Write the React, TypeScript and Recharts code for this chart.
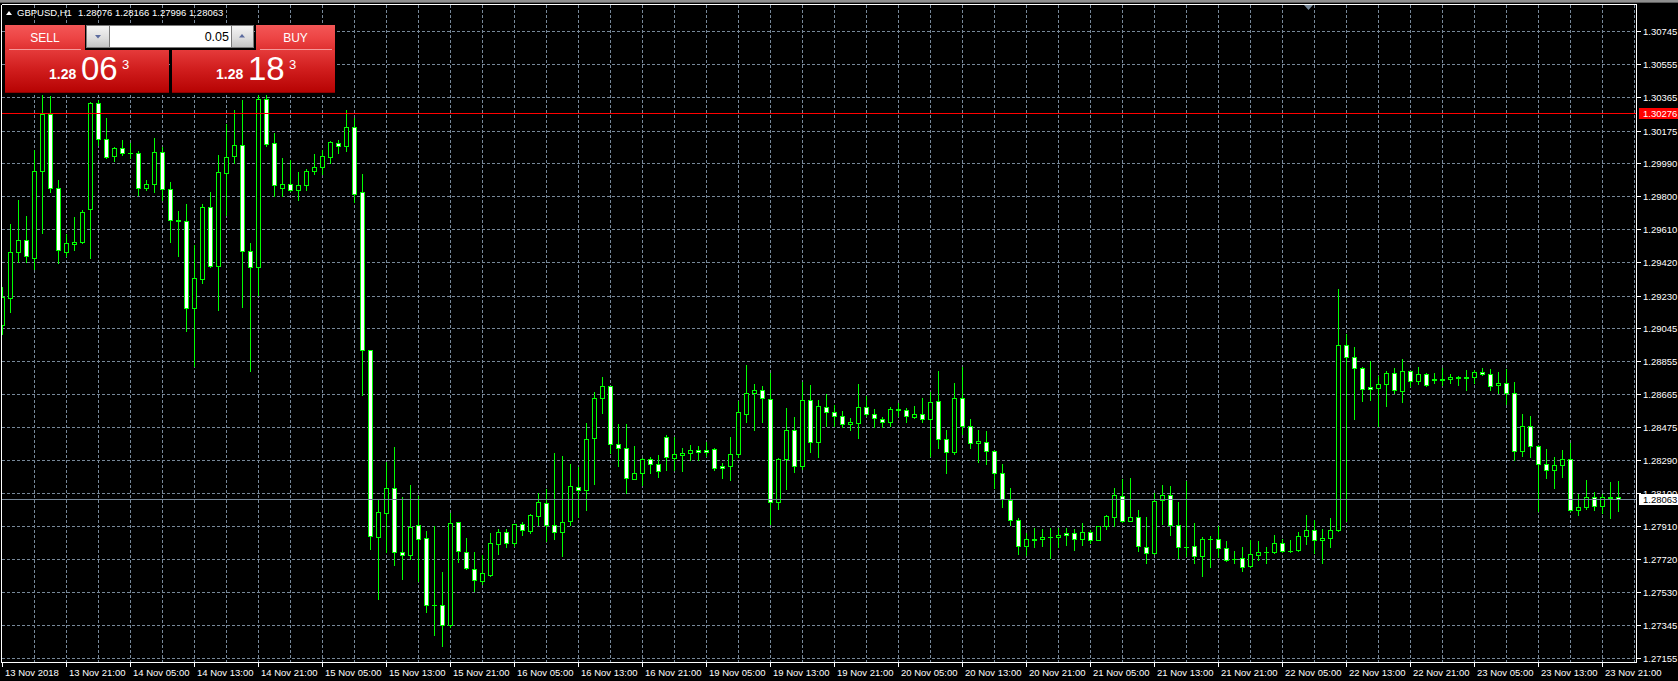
import React from 'react';
import { ComposedChart, Bar, XAxis, YAxis, CartesianGrid, ReferenceLine } from 'recharts';

// ---------------- data ----------------
const symbol = 'GBPUSD,H1';

const opens = [
  1.29063,1.29219,1.29478,1.29547,1.29447,1.29943,1.30267,1.29847,1.29482,1.29524,
  1.29534,1.29724,1.30330,1.30129,1.30029,1.30077,1.30048,1.30048,1.29847,1.29868,
  1.30054,1.29839,1.29662,1.29655,1.29161,1.29326,1.29737,1.29397,1.29933,1.30027,
  1.30090,1.29483,1.29393,1.30354,1.30102,1.29848,1.29867,1.29832,1.29861,1.29941,
  1.29966,1.30021,1.30103,1.30086,1.30193,1.29821,1.28916,1.27849,1.27988,1.28126,
  1.27761,1.27746,1.27914,1.27841,1.27461,1.27459,1.27345,1.27931,1.27761,1.27663,
  1.27597,1.27632,1.27807,1.27876,1.27816,1.27922,1.27880,1.27966,1.28043,1.27916,
  1.27874,1.27937,1.28133,1.28118,1.28413,1.28642,1.28711,1.28383,1.28360,1.28181,
  1.28216,1.28296,1.28268,1.28423,1.28302,1.28319,1.28331,1.28348,1.28348,1.28354,
  1.28256,1.28256,1.28325,1.28550,1.28671,1.28688,1.28636,1.28049,1.28296,1.28458,
  1.28256,1.28630,1.28394,1.28590,1.28561,1.28538,1.28492,1.28498,1.28590,1.28550,
  1.28521,1.28509,1.28579,1.28575,1.28532,1.28550,1.28521,1.28625,1.28411,1.28337,
  1.28642,1.28486,1.28388,1.28392,1.28342,1.28216,1.28060,1.27945,1.27795,1.27835,
  1.27835,1.27847,1.27847,1.27870,1.27870,1.27835,1.27876,1.27830,1.27910,1.27962,
  1.28083,1.27939,1.27962,1.27789,1.27755,1.28062,1.28089,1.27916,1.27793,1.27795,
  1.27738,1.27835,1.27835,1.27784,1.27720,1.27730,1.27680,1.27743,1.27761,1.27761,
  1.27812,1.27766,1.27772,1.27853,1.27887,1.27830,1.27841,1.27887,1.28947,1.28878,
  1.28815,1.28705,1.28700,1.28722,1.28786,1.28682,1.28797,1.28740,1.28780,1.28745,
  1.28750,1.28751,1.28763,1.28759,1.28761,1.28792,1.28780,1.28717,1.28728,1.28671,
  1.28340,1.28481,1.28371,1.28267,1.28233,1.28262,1.28296,1.28003,1.28020,1.28077,
  1.28026,1.28077,1.28076,
];

const highs = [
  1.29278,1.29639,1.29777,1.29687,1.30065,1.30378,1.30371,1.29893,1.29582,1.29682,
  1.29722,1.30340,1.30350,1.30246,1.30080,1.30119,1.30106,1.30056,1.29893,1.30131,
  1.30079,1.29881,1.29716,1.29756,1.29520,1.29756,1.29825,1.30037,1.30210,1.30294,
  1.30350,1.29531,1.30380,1.30380,1.30161,1.30019,1.30006,1.29939,1.29956,1.30040,
  1.30061,1.30113,1.30121,1.30294,1.30247,1.29926,1.28920,1.28057,1.28278,1.28362,
  1.28074,1.28145,1.28080,1.27881,1.27910,1.27648,1.27986,1.27935,1.27843,1.27763,
  1.27745,1.27868,1.27895,1.27893,1.27925,1.27935,1.27980,1.28102,1.28125,1.28327,
  1.28314,1.28267,1.28250,1.28500,1.28678,1.28763,1.28715,1.28492,1.28492,1.28371,
  1.28302,1.28304,1.28319,1.28429,1.28423,1.28360,1.28373,1.28369,1.28394,1.28360,
  1.28273,1.28423,1.28628,1.28832,1.28723,1.28711,1.28786,1.28302,1.28584,1.28532,
  1.28734,1.28717,1.28630,1.28665,1.28602,1.28567,1.28527,1.28723,1.28653,1.28579,
  1.28532,1.28590,1.28613,1.28584,1.28596,1.28642,1.28676,1.28797,1.28463,1.28728,
  1.28822,1.28521,1.28463,1.28452,1.28345,1.28267,1.28129,1.27956,1.27870,1.27899,
  1.27893,1.27899,1.27899,1.27899,1.27893,1.27928,1.27887,1.27912,1.27974,1.28129,
  1.28181,1.28187,1.28004,1.27962,1.28100,1.28148,1.28137,1.28050,1.28166,1.27928,
  1.27849,1.27855,1.27908,1.27824,1.27766,1.27789,1.27832,1.27824,1.27791,1.27860,
  1.27835,1.27830,1.27876,1.27974,1.27945,1.27893,1.27956,1.29270,1.29011,1.28936,
  1.28820,1.28855,1.28769,1.28797,1.28815,1.28867,1.28800,1.28820,1.28786,1.28786,
  1.28815,1.28780,1.28769,1.28803,1.28803,1.28815,1.28809,1.28792,1.28809,1.28734,
  1.28550,1.28538,1.28375,1.28354,1.28308,1.28348,1.28388,1.28095,1.28175,1.28106,
  1.28095,1.28164,1.28166,
];

const lows = [
  1.29011,1.29136,1.29424,1.29424,1.29384,1.29591,1.29825,1.29415,1.29457,1.29493,
  1.29530,1.29445,1.30094,1.30020,1.30000,1.30033,1.30016,1.29804,1.29833,1.29825,
  1.29776,1.29534,1.29459,1.29027,1.28827,1.29303,1.29395,1.29148,1.29691,1.29991,
  1.29162,1.28798,1.29235,1.30084,1.29798,1.29798,1.29830,1.29779,1.29836,1.29926,
  1.29928,1.29991,1.30048,1.30058,1.29764,1.28658,1.27780,1.27492,1.27759,1.27690,
  1.27608,1.27721,1.27593,1.27419,1.27286,1.27223,1.27335,1.27702,1.27665,1.27538,
  1.27580,1.27626,1.27753,1.27793,1.27797,1.27862,1.27868,1.27918,1.27824,1.27839,
  1.27741,1.27914,1.27960,1.28001,1.28150,1.28559,1.28329,1.28254,1.28099,1.28178,
  1.28143,1.28214,1.28191,1.28231,1.28231,1.28225,1.28290,1.28287,1.28310,1.28233,
  1.28185,1.28173,1.28308,1.28504,1.28458,1.28504,1.27922,1.28008,1.28124,1.28221,
  1.28239,1.28337,1.28308,1.28486,1.28481,1.28475,1.28463,1.28412,1.28538,1.28475,
  1.28475,1.28481,1.28538,1.28509,1.28527,1.28504,1.28312,1.28360,1.28216,1.28323,
  1.28440,1.28360,1.28277,1.28267,1.28127,1.28018,1.27914,1.27753,1.27747,1.27793,
  1.27799,1.27730,1.27789,1.27801,1.27772,1.27801,1.27816,1.27828,1.27893,1.27910,
  1.27935,1.27937,1.27770,1.27701,1.27750,1.27920,1.27857,1.27730,1.27738,1.27699,
  1.27626,1.27678,1.27736,1.27709,1.27701,1.27655,1.27676,1.27718,1.27701,1.27755,
  1.27761,1.27764,1.27770,1.27809,1.27755,1.27701,1.27789,1.27880,1.27941,1.28521,
  1.28625,1.28630,1.28484,1.28596,1.28671,1.28619,1.28715,1.28722,1.28715,1.28728,
  1.28717,1.28728,1.28717,1.28692,1.28728,1.28778,1.28688,1.28671,1.28607,1.28290,
  1.28312,1.28306,1.27995,1.28187,1.28129,1.28191,1.27998,1.27974,1.28008,1.28003,
  1.27983,1.27955,1.27996,
];

const closes = [
  1.29223,1.29478,1.29547,1.29455,1.29945,1.30267,1.29847,1.29490,1.29530,1.29536,
  1.29708,1.30330,1.30129,1.30025,1.30077,1.30048,1.30046,1.29847,1.29870,1.30054,
  1.29839,1.29662,1.29658,1.29161,1.29328,1.29737,1.29397,1.29939,1.30025,1.30090,
  1.29487,1.29393,1.30354,1.30100,1.29861,1.29867,1.29834,1.29861,1.29941,1.29966,
  1.30027,1.30109,1.30086,1.30193,1.29811,1.28916,1.27856,1.27990,1.28126,1.27759,
  1.27746,1.27904,1.27839,1.27461,1.27459,1.27341,1.27927,1.27765,1.27668,1.27603,
  1.27640,1.27812,1.27876,1.27816,1.27922,1.27885,1.27974,1.28049,1.27916,1.27876,
  1.27931,1.28141,1.28118,1.28411,1.28642,1.28711,1.28383,1.28360,1.28187,1.28216,
  1.28296,1.28268,1.28227,1.28308,1.28325,1.28331,1.28348,1.28337,1.28337,1.28244,
  1.28244,1.28325,1.28561,1.28671,1.28688,1.28642,1.28049,1.28296,1.28458,1.28256,
  1.28630,1.28394,1.28596,1.28561,1.28538,1.28492,1.28509,1.28590,1.28550,1.28527,
  1.28509,1.28579,1.28575,1.28538,1.28550,1.28521,1.28619,1.28411,1.28337,1.28642,
  1.28486,1.28388,1.28400,1.28342,1.28216,1.28066,1.27945,1.27795,1.27835,1.27833,
  1.27847,1.27845,1.27858,1.27858,1.27835,1.27876,1.27830,1.27910,1.27968,1.28089,
  1.27939,1.27962,1.27795,1.27755,1.28054,1.28089,1.27916,1.27793,1.27791,1.27738,
  1.27835,1.27839,1.27784,1.27715,1.27724,1.27674,1.27749,1.27761,1.27763,1.27812,
  1.27766,1.27770,1.27853,1.27887,1.27830,1.27840,1.27887,1.28947,1.28878,1.28815,
  1.28694,1.28694,1.28722,1.28786,1.28688,1.28797,1.28740,1.28780,1.28717,1.28750,
  1.28748,1.28763,1.28759,1.28761,1.28792,1.28780,1.28711,1.28728,1.28671,1.28340,
  1.28481,1.28371,1.28267,1.28233,1.28262,1.28296,1.28003,1.28020,1.28077,1.28026,
  1.28077,1.28072,1.28063,
];

const timeLabels = [
  '13 Nov 2018', '13 Nov 21:00', '14 Nov 05:00', '14 Nov 13:00', '14 Nov 21:00',
  '15 Nov 05:00', '15 Nov 13:00', '15 Nov 21:00', '16 Nov 05:00', '16 Nov 13:00',
  '16 Nov 21:00', '19 Nov 05:00', '19 Nov 13:00', '19 Nov 21:00', '20 Nov 05:00',
  '20 Nov 13:00', '20 Nov 21:00', '21 Nov 05:00', '21 Nov 13:00', '21 Nov 21:00',
  '22 Nov 05:00', '22 Nov 13:00', '22 Nov 21:00', '23 Nov 05:00', '23 Nov 13:00',
  '23 Nov 21:00',
];
const labelIdx = [
  0, 8, 16, 24, 32, 40, 48, 56, 64, 72, 80, 88, 96, 104, 112, 120, 128,
  136, 144, 152, 160, 168, 176, 184, 192, 200,
];

const priceTicks = [
  1.30745, 1.30555, 1.30365, 1.30175, 1.29990, 1.29800, 1.29610, 1.29420, 1.29230, 1.29045,
  1.28855, 1.28665, 1.28475, 1.28290, 1.28100, 1.27910, 1.27720, 1.27530, 1.27345, 1.27155,
];

const redLevel = 1.30276;
const bidPrice = 1.28063;
const askPrice = 1.28183;
const lotSize = '0.05';

// ---------------- layout constants ----------------
const FONT = '"Liberation Sans", Arial, Helvetica, sans-serif';
const LIME = '#00ff00';
const GRID = '#778899';
const Y_TOP = 1.3089959;
const Y_BOTTOM = 1.2713199;
const X_MIN = -0.125;
const X_MAX = 204.25;
const gridIdx = Array.from({ length: 51 }, (_, k) => 4 + k * 4);

const data = opens.map((o, i) => ({ idx: i, open: o, high: highs[i], low: lows[i], close: closes[i] }));

function Candle(props: any) {
  const { x, y, width, height, payload } = props;
  if (!payload || x == null || y == null) return null;
  const { open, close, high, low } = payload;
  const top = Math.min(y, y + height);
  const bot = Math.max(y, y + height);
  const k = high > low ? (bot - top) / (high - low) : 0;
  const py = (p: number) => top + (high - p) * k;
  const c = Math.floor(x + width / 2);
  const wTop = Math.floor(py(high));
  const wBot = Math.floor(py(low));
  const bTop = Math.floor(py(Math.max(open, close)));
  const bBot = Math.floor(py(Math.min(open, close)));
  const bh = bBot - bTop + 1;
  const bull = close > open;
  return (
    <g>
      <rect x={c} y={wTop} width={1} height={Math.max(1, wBot - wTop + 1)} fill={LIME} />
      <rect x={c - 2} y={bTop} width={5} height={bh} fill={LIME} />
      {bh > 2 && <rect x={c - 1} y={bTop + 1} width={3} height={bh - 2} fill={bull ? '#000000' : '#ffffff'} />}
    </g>
  );
}

function PriceTick(props: any) {
  const { x, y, payload } = props;
  const v = payload.value as number;
  const yy = Math.floor(y);
  const label = v.toFixed(5);
  if (v === redLevel) {
    return (
      <g>
        <rect x={1639} y={yy - 5} width={39} height={11} fill="#ff0000" />
        <text x={1643} y={yy + 4} fill="#ffffff" fontFamily={FONT} fontSize={9.5}>{label}</text>
      </g>
    );
  }
  if (v === bidPrice) {
    return (
      <g>
        <rect x={1639} y={yy - 5} width={39} height={11} fill="#ffffff" />
        <text x={1643} y={yy + 4} fill="#000000" fontFamily={FONT} fontSize={9.5}>{label}</text>
      </g>
    );
  }
  return (
    <g>
      <rect x={Math.floor(x) + 1} y={yy} width={4} height={1} fill="#ffffff" />
      <text x={1643} y={yy + 4} fill="#ffffff" fontFamily={FONT} fontSize={9.5}>{label}</text>
    </g>
  );
}

function TimeTick(props: any) {
  const { x, y, payload } = props;
  const pos = labelIdx.indexOf(payload.value);
  if (pos < 0) return null;
  const xx = Math.floor(x);
  const yy = Math.floor(y);
  return (
    <g>
      <rect x={xx} y={yy + 1} width={1} height={4} fill="#ffffff" />
      <text x={xx + 3} y={yy + 14} fill="#ffffff" fontFamily={FONT} fontSize={9.5}>{timeLabels[pos]}</text>
    </g>
  );
}

const redGrad = 'linear-gradient(to bottom, #f45757 0%, #ec4343 55%, #de2f2f 100%)';
const boxGrad = 'linear-gradient(to bottom, #e53a3a 0%, #d11e1e 45%, #b70303 100%)';
const btnGrad = 'linear-gradient(to bottom, #f4f4f4 0%, #dcdcdc 60%, #c4c4c4 100%)';

function QuoteBox({ left, width, price }: { left: number; width: number; price: number }) {
  const s = price.toFixed(5);
  const head = s.slice(0, 4);
  const big = s.slice(4, 6);
  const tail = s.slice(6);
  const pad = left === 5 ? 44 : 44;
  return (
    <div style={{ position: 'absolute', left, top: 50, width, height: 43, background: boxGrad, boxSizing: 'border-box', borderBottom: '1px solid #8e0000' }}>
      <span style={{ position: 'absolute', left: pad, top: 17, font: `bold 14px ${FONT}`, lineHeight: '14px', color: '#fff' }}>{head}</span>
      <span style={{ position: 'absolute', left: pad + 32, top: 2, font: `33px ${FONT}`, lineHeight: '33px', color: '#fff' }}>{big}</span>
      <span style={{ position: 'absolute', left: pad + 73, top: 8, font: `13px ${FONT}`, lineHeight: '13px', color: '#fff' }}>{tail}</span>
    </div>
  );
}

export default function App() {
  const last = data.length - 1;
  const ohlc = [opens[last], highs[last], lows[last], closes[last]].map((v) => v.toFixed(5)).join(' ');
  return (
    <div className="mt4" style={{ position: 'fixed', left: 0, top: 0, width: 1678, height: 681, background: '#000', overflow: 'hidden' }}>
      <style>{'.mt4 svg line, .mt4 svg rect, .mt4 svg path { shape-rendering: crispEdges; }'}</style>
      <ComposedChart width={1678} height={681} data={data} margin={{ top: 4.5, right: 0, bottom: 0, left: 1.5 }}>
        <CartesianGrid stroke={GRID} strokeDasharray="3 2" horizontalValues={priceTicks} verticalValues={gridIdx} />
        <XAxis
          type="number"
          dataKey="idx"
          domain={[X_MIN, X_MAX]}
          allowDataOverflow
          ticks={labelIdx}
          interval={0}
          height={18.5}
          axisLine={{ stroke: '#ffffff' }}
          tickLine={false}
          tickSize={0}
          tickMargin={0}
          tick={(p: any) => <TimeTick {...p} />}
        />
        <YAxis
          orientation="right"
          type="number"
          domain={[Y_BOTTOM, Y_TOP]}
          allowDataOverflow
          ticks={[...priceTicks, redLevel, bidPrice]}
          interval={0}
          width={41.5}
          axisLine={{ stroke: '#ffffff' }}
          tickLine={false}
          tickSize={0}
          tickMargin={0}
          tick={(p: any) => <PriceTick {...p} />}
        />
        <ReferenceLine x={X_MIN} stroke="#ffffff" ifOverflow="visible" />
        <ReferenceLine y={Y_TOP} stroke="#ffffff" ifOverflow="visible" />
        <Bar dataKey={(d: any) => [d.low, d.high]} barSize={5} shape={(p: any) => <Candle {...p} />} isAnimationActive={false} />
        <ReferenceLine y={redLevel} stroke="#ff0000" ifOverflow="visible" />
        <ReferenceLine y={bidPrice} stroke={GRID} ifOverflow="visible" />
      </ComposedChart>

      {/* window top bar */}
      <div style={{ position: 'absolute', left: 0, top: 0, width: 1678, height: 2, background: '#8f8f8f' }} />
      <div style={{ position: 'absolute', left: 0, top: 2, width: 1678, height: 1, background: '#5c5c5c' }} />

      {/* chart shift marker */}
      <svg style={{ position: 'absolute', left: 1304, top: 5 }} width={10} height={5}>
        <polygon points="0,0 9,0 4.5,5" fill={GRID} />
      </svg>

      {/* header */}
      <svg style={{ position: 'absolute', left: 6, top: 11 }} width={6} height={4}>
        <polygon points="0,4 3,0 6,4" fill="#ffffff" />
      </svg>
      <span style={{ position: 'absolute', left: 17, top: 8, font: `9.5px ${FONT}`, lineHeight: '9.5px', color: '#fff', whiteSpace: 'pre' }}>{symbol}</span>
      <span style={{ position: 'absolute', left: 78, top: 8, font: `9.5px ${FONT}`, lineHeight: '9.5px', color: '#fff', whiteSpace: 'pre' }}>{ohlc}</span>

      {/* one-click trading panel */}
      <div style={{ position: 'absolute', left: 5, top: 25, width: 80, height: 25, background: redGrad, color: '#fff', font: `12px ${FONT}`, display: 'flex', alignItems: 'center', justifyContent: 'center' }}>SELL</div>
      <div style={{ position: 'absolute', left: 256, top: 25, width: 79, height: 25, background: redGrad, color: '#fff', font: `12px ${FONT}`, display: 'flex', alignItems: 'center', justifyContent: 'center' }}>BUY</div>
      <div style={{ position: 'absolute', left: 9, top: 49, width: 72, height: 1, background: '#f59a9a' }} />
      <div style={{ position: 'absolute', left: 260, top: 49, width: 72, height: 1, background: '#f59a9a' }} />

      <div style={{ position: 'absolute', left: 86, top: 25, width: 168, height: 23, background: '#7a7a7a' }} />
      <div style={{ position: 'absolute', left: 87, top: 26, width: 22, height: 21, background: btnGrad }}>
        <svg style={{ position: 'absolute', left: 8, top: 9 }} width={6} height={4}>
          <polygon points="0,0 6,0 3,3.5" fill="#5b6b9e" />
        </svg>
      </div>
      <div style={{ position: 'absolute', left: 110, top: 26, width: 121, height: 21, background: '#fff', color: '#000', font: `12.5px ${FONT}`, display: 'flex', alignItems: 'center', justifyContent: 'flex-end', paddingRight: 2, boxSizing: 'border-box' }}>{lotSize}</div>
      <div style={{ position: 'absolute', left: 232, top: 26, width: 21, height: 21, background: btnGrad }}>
        <svg style={{ position: 'absolute', left: 7, top: 8 }} width={6} height={4}>
          <polygon points="0,3.5 6,3.5 3,0" fill="#5b6b9e" />
        </svg>
      </div>

      <QuoteBox left={5} width={164} price={bidPrice} />
      <QuoteBox left={172} width={163} price={askPrice} />
    </div>
  );
}
